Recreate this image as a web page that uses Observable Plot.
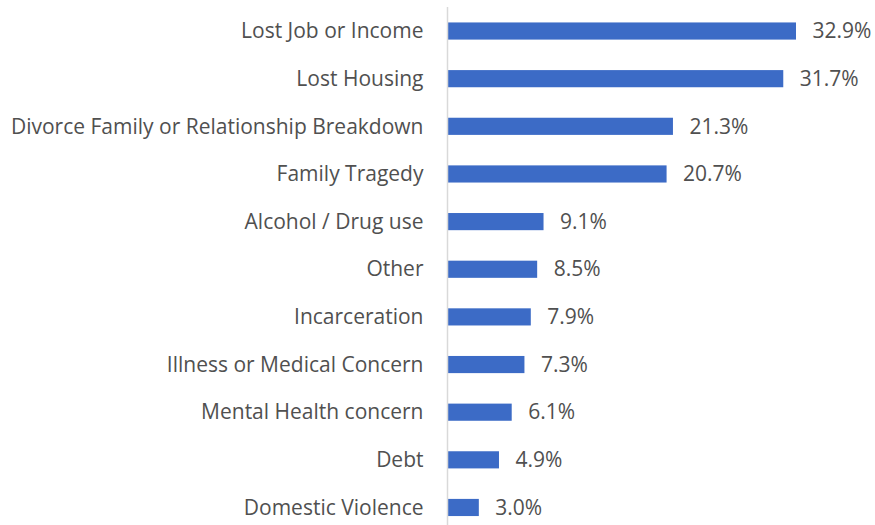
<!DOCTYPE html>
<html><head><meta charset="utf-8">
<script src="https://cdn.jsdelivr.net/npm/d3@7"></script>
<script src="https://cdn.jsdelivr.net/npm/@observablehq/plot@0.6"></script>
<style>body{margin:0;background:#fff;}</style>
</head><body><div id="chart"></div>
<script>
const categories = ["Lost Job or Income","Lost Housing","Divorce Family or Relationship Breakdown","Family Tragedy","Alcohol / Drug use","Other","Incarceration","Illness or Medical Concern","Mental Health concern","Debt","Domestic Violence"];
const values = [32.9,31.7,21.3,20.7,9.1,8.5,7.9,7.3,6.1,4.9,3.0];
const data = categories.map((c,i)=>({category:c, value:values[i]}));
const font = "'Open Sans', sans-serif";
const chart = Plot.plot({
  width: 875, height: 525,
  marginLeft: 447, marginRight: 79, marginTop: 7, marginBottom: 0,
  style: {fontFamily: font, color: "#505050", background: "#fff"},
  x: {domain: [0, 32.9], axis: null},
  y: {domain: categories, range: [7.2, 531.3], paddingInner: 0.64, paddingOuter: 0.32, round: false, axis: null},
  marks: [
    Plot.barX(data, {x: "value", y: "category", fill: "#3c6bc6"}),
    Plot.ruleX([0], {stroke: "#d9d9d9", strokeWidth: 1.5}),
    Plot.axisY({tickSize: 0, tickPadding: 24, fontSize: 21, label: null}),
    Plot.text(data, {x: "value", y: "category", text: d => d.value.toFixed(1) + "%", textAnchor: "start", dx: 16, fontSize: 21, fill: "#505050"})
  ]
});
document.getElementById("chart").append(chart);
</script></body></html>
